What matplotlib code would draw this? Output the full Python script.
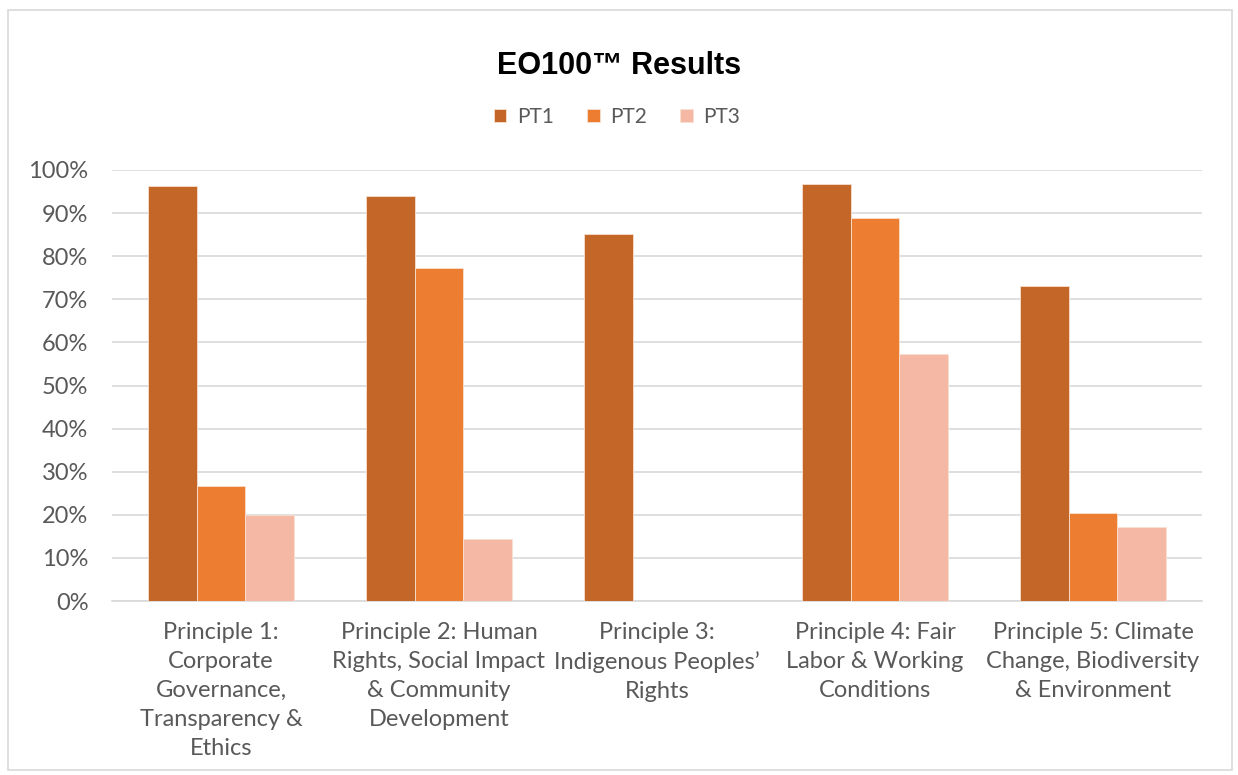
import matplotlib
matplotlib.use("Agg")
import matplotlib.pyplot as plt
import numpy as np
from matplotlib.patches import Rectangle

categories = ["Principle 1:\nCorporate\nGovernance,\nTransparency &\nEthics",
              "Principle 2: Human\nRights, Social Impact\n& Community\nDevelopment",
              "Principle 3:\nIndigenous Peoples\u2019\nRights",
              "Principle 4: Fair\nLabor & Working\nConditions",
              "Principle 5: Climate\nChange, Biodiversity\n& Environment"]
series_names = ["PT1", "PT2", "PT3"]
pt1 = [96.3, 94.0, 85.2, 96.8, 73.0]
pt2 = [26.6, 77.3, 0, 88.9, 20.4]
pt3 = [20.0, 14.4, 0, 57.2, 17.2]
yticks = [0, 10, 20, 30, 40, 50, 60, 70, 80, 90, 100]
colors = ["#C46628", "#ED7D31", "#F4B8A4"]

plt.rcParams['font.family'] = ['Lato', 'DejaVu Sans']
fig = plt.figure(figsize=(12.38, 7.75), dpi=100)
fig.patches.append(Rectangle((8/1238, 1-770/775), 1224/1238, 760/775, transform=fig.transFigure,
                             fill=False, edgecolor="#D9D9D9", linewidth=1.2))
ax = fig.add_axes([112/1238, 1-601/775, 1090/1238, 431/775])
x = np.arange(len(categories))
w = 0.2225
for i, (vals, c, n) in enumerate(zip([pt1, pt2, pt3], colors, series_names)):
    ax.bar(x + (i-1)*w, vals, width=w, color=c, edgecolor="#F8E0D0", linewidth=0.6, label=n, zorder=3)
ax.set_xlim(-0.5, len(categories)-0.5)
ax.set_ylim(0, 100)
ax.set_yticks(yticks)
ax.set_yticklabels([f"{t}%" for t in yticks], fontsize=17, color="#595959")
ax.set_xticks(x)
ax.set_xticklabels(categories, fontsize=17, color="#595959", linespacing=1.47)
ax.tick_params(axis='both', length=0)
ax.tick_params(axis='y', pad=17)
ax.tick_params(axis='x', pad=15)
ax.grid(axis='y', color="#D9D9D9", linewidth=1.2, zorder=0)
for s in ["top", "right", "left"]:
    ax.spines[s].set_visible(False)
ax.spines["bottom"].set_color("#D9D9D9")
ax.spines["bottom"].set_linewidth(1.2)
fig.text(0.5, 1-66/775, "EO100\u2122 Results", ha="center", va="center", fontsize=22, fontweight="bold",
         family=["Liberation Sans", "DejaVu Sans"], color="black")
leg = fig.legend(loc="center", bbox_to_anchor=(617/1238, 1-117/775), ncol=3, frameon=False,
                 fontsize=15, handlelength=0.6, handleheight=0.6, columnspacing=1.6, handletextpad=0.5)
for t in leg.get_texts():
    t.set_color("#595959")
fig.savefig("out.png", dpi=100)
